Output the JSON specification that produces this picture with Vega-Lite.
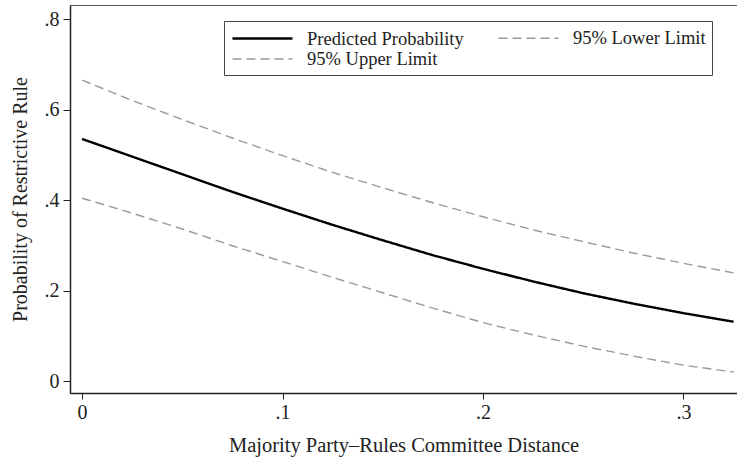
{
  "$schema": "https://vega.github.io/schema/vega-lite/v6.json",
  "autosize": "none",
  "width": 667,
  "height": 388,
  "padding": {"left": 70, "top": 5, "right": 0, "bottom": 68},
  "background": "white",
  "config": {
    "font": "Liberation Serif",
    "view": {"stroke": "#555", "strokeWidth": 1}
  },
  "datasets": {
    "curves": [
      {"x": 0, "series": "Predicted Probability", "p": 0.535},
      {"x": 0.025, "series": "Predicted Probability", "p": 0.496},
      {"x": 0.05, "series": "Predicted Probability", "p": 0.457},
      {"x": 0.075, "series": "Predicted Probability", "p": 0.418},
      {"x": 0.1, "series": "Predicted Probability", "p": 0.381},
      {"x": 0.125, "series": "Predicted Probability", "p": 0.345},
      {"x": 0.15, "series": "Predicted Probability", "p": 0.311},
      {"x": 0.175, "series": "Predicted Probability", "p": 0.278},
      {"x": 0.2, "series": "Predicted Probability", "p": 0.248},
      {"x": 0.225, "series": "Predicted Probability", "p": 0.22},
      {"x": 0.25, "series": "Predicted Probability", "p": 0.194},
      {"x": 0.275, "series": "Predicted Probability", "p": 0.171},
      {"x": 0.3, "series": "Predicted Probability", "p": 0.15},
      {"x": 0.325, "series": "Predicted Probability", "p": 0.131},
      {"x": 0, "series": "95% Lower Limit", "p": 0.404},
      {"x": 0.025, "series": "95% Lower Limit", "p": 0.371},
      {"x": 0.05, "series": "95% Lower Limit", "p": 0.336},
      {"x": 0.075, "series": "95% Lower Limit", "p": 0.299},
      {"x": 0.1, "series": "95% Lower Limit", "p": 0.264},
      {"x": 0.125, "series": "95% Lower Limit", "p": 0.229},
      {"x": 0.15, "series": "95% Lower Limit", "p": 0.195},
      {"x": 0.175, "series": "95% Lower Limit", "p": 0.161},
      {"x": 0.2, "series": "95% Lower Limit", "p": 0.129},
      {"x": 0.225, "series": "95% Lower Limit", "p": 0.102},
      {"x": 0.25, "series": "95% Lower Limit", "p": 0.077},
      {"x": 0.275, "series": "95% Lower Limit", "p": 0.055},
      {"x": 0.3, "series": "95% Lower Limit", "p": 0.035},
      {"x": 0.325, "series": "95% Lower Limit", "p": 0.02},
      {"x": 0, "series": "95% Upper Limit", "p": 0.665},
      {"x": 0.025, "series": "95% Upper Limit", "p": 0.62},
      {"x": 0.05, "series": "95% Upper Limit", "p": 0.578},
      {"x": 0.075, "series": "95% Upper Limit", "p": 0.537},
      {"x": 0.1, "series": "95% Upper Limit", "p": 0.498},
      {"x": 0.125, "series": "95% Upper Limit", "p": 0.461},
      {"x": 0.15, "series": "95% Upper Limit", "p": 0.427},
      {"x": 0.175, "series": "95% Upper Limit", "p": 0.394},
      {"x": 0.2, "series": "95% Upper Limit", "p": 0.363},
      {"x": 0.225, "series": "95% Upper Limit", "p": 0.334},
      {"x": 0.25, "series": "95% Upper Limit", "p": 0.308},
      {"x": 0.275, "series": "95% Upper Limit", "p": 0.283},
      {"x": 0.3, "series": "95% Upper Limit", "p": 0.26},
      {"x": 0.325, "series": "95% Upper Limit", "p": 0.239}
    ]
  },
  "data": {"name": "curves"},
  "mark": {"type": "line", "clip": true},
  "encoding": {
    "x": {
      "field": "x",
      "type": "quantitative",
      "scale": {"domain": [-0.006, 0.3267], "nice": false, "zero": false},
      "axis": {
        "title": "Majority Party–Rules Committee Distance",
        "values": [0, 0.1, 0.2, 0.3],
        "labelExpr": "datum.value == 0 ? '0' : replace(format(datum.value, '.1f'), '0.', '.')",
        "grid": false,
        "domainColor": "#222",
        "domainWidth": 1.5,
        "tickColor": "#222",
        "tickSize": 6,
        "labelFontSize": 20,
        "labelColor": "#222",
        "labelPadding": 3,
        "titleFontSize": 20.5,
        "titleFontWeight": "normal",
        "titleColor": "#222",
        "titlePadding": 13
      }
    },
    "y": {
      "field": "p",
      "type": "quantitative",
      "scale": {"domain": [-0.0265, 0.831], "nice": false, "zero": false},
      "axis": {
        "title": "Probability of Restrictive Rule",
        "values": [0, 0.2, 0.4, 0.6, 0.8],
        "labelExpr": "datum.value == 0 ? '0' : replace(format(datum.value, '.1f'), '0.', '.')",
        "grid": false,
        "domainColor": "#222",
        "domainWidth": 1.5,
        "tickColor": "#222",
        "tickSize": 7,
        "labelFontSize": 20,
        "labelColor": "#222",
        "labelPadding": 4,
        "titleFontSize": 20,
        "titleFontWeight": "normal",
        "titleColor": "#222",
        "titlePadding": 14
      }
    },
    "color": {
      "field": "series",
      "type": "nominal",
      "scale": {
        "domain": ["Predicted Probability", "95% Lower Limit", "95% Upper Limit"],
        "range": ["#000000", "#9a9a9a", "#9a9a9a"]
      },
      "legend": {
        "title": null,
        "values": ["Predicted Probability", "95% Upper Limit", "95% Lower Limit"],
        "orient": "none",
        "legendX": 154,
        "legendY": 16,
        "columns": 2,
        "columnPadding": 31,
        "rowPadding": -2,
        "padding": 6,
        "strokeColor": "#444",
        "fillColor": "white",
        "symbolType": "M-3,0H3",
        "symbolSize": 400,
        "symbolOffset": 21,
        "labelFontSize": 18.5,
        "labelColor": "#222",
        "labelOffset": 33,
        "labelLimit": 300
      }
    },
    "strokeDash": {
      "field": "series",
      "type": "nominal",
      "scale": {
        "domain": ["Predicted Probability", "95% Lower Limit", "95% Upper Limit"],
        "range": [[1, 0], [9, 5], [9, 5]]
      },
      "legend": null
    },
    "strokeWidth": {
      "field": "series",
      "type": "nominal",
      "scale": {
        "type": "ordinal",
        "domain": ["Predicted Probability", "95% Lower Limit", "95% Upper Limit"],
        "range": [2.4, 1.4, 1.4]
      },
      "legend": null
    }
  }
}
